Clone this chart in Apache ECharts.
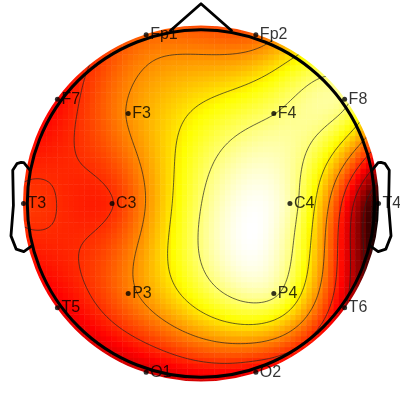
<!DOCTYPE html>
<html><head><meta charset="utf-8">
<script src="https://cdn.jsdelivr.net/npm/echarts@6/dist/echarts.min.js"></script>
<style>html,body{margin:0;padding:0;background:#fff}#c{width:400px;height:400px}</style>
</head><body><div id="c"></div>
<script>
// ---- data ----
const CHANNELS = ['Fp1','Fp2','F7','F3','F4','F8','T3','C3','C4','T4','T5','P3','P4','T6','O1','O2'];
const THETA    = [-18, 18, -54, -39, 39, 54, -90, -90, 90, 90, -126, -141, 141, 126, -162, 162];
const RADIUS   = [0.511,0.511,0.511,0.333,0.333,0.511,0.511,0.256,0.256,0.511,0.511,0.333,0.333,0.511,0.511,0.511];
const VALUES   = [0.3, 0.3, -2.4, 1.7, 7.1, 7.6, -0.9, -1.3, 8.2, -9.4, -3.0, 1.0, 7.6, -3.8, -3.9, -2.9];
const CONTOUR_COUNT = 6;
const HEAD_RADIUS = 0.5;
const NOSE_X = [0.09, 0, -0.09];
const NOSE_Y = [0.496, 0.575, 0.496];
const EAR_X = [0.492, 0.510, 0.518, 0.5299, 0.5419, 0.54, 0.547, 0.532, 0.510, 0.484];
const EAR_Y = [0.0955, 0.1175, 0.1183, 0.1146, 0.0955, -0.0055, -0.0932, -0.1313, -0.1384, -0.1199];
const HOT = ['#000000','#550000','#aa0000','#ff0000','#ff5500','#ffaa00','#ffff00','#ffff80','#ffffff'];

// ---- layout ----
const PX = 347.4, CX = 201, CY = 203.5;
const N = 67, GRID_R = 0.5145, BLANK_R = 0.5125;
const step = 2 * GRID_R / (N - 1);

// ---- electrode positions ----
const ex = THETA.map((t, i) => RADIUS[i] * Math.sin(t * Math.PI / 180));
const ey = THETA.map((t, i) => RADIUS[i] * Math.cos(t * Math.PI / 180));

// ---- biharmonic spline (griddata v4) ----
function green(d) { return d === 0 ? 0 : d * d * (Math.log(d) - 1); }
const n = VALUES.length;
const A = [];
for (let i = 0; i < n; i++) { A.push([]); for (let j = 0; j < n; j++) A[i].push(green(Math.hypot(ex[i]-ex[j], ey[i]-ey[j]))); A[i].push(VALUES[i]); }
for (let c = 0; c < n; c++) {
  let p = c; for (let r = c+1; r < n; r++) if (Math.abs(A[r][c]) > Math.abs(A[p][c])) p = r;
  [A[c], A[p]] = [A[p], A[c]];
  for (let r = 0; r < n; r++) { if (r === c) continue; const f = A[r][c] / A[c][c]; for (let k = c; k <= n; k++) A[r][k] -= f * A[c][k]; }
}
const W = A.map((row, i) => row[n] / row[i]);
function field(x, y) { let s = 0; for (let j = 0; j < n; j++) s += W[j] * green(Math.hypot(x-ex[j], y-ey[j])); return s; }

// ---- heat grid ----
const heat = []; let zmin = Infinity, zmax = -Infinity;
const FILL_R = BLANK_R + step * 0.75;
for (let i = 0; i < N; i++) for (let j = 0; j < N; j++) {
  const x = -GRID_R + i * step, y = -GRID_R + j * step, r = Math.hypot(x, y);
  if (r <= FILL_R) {
    const v = field(x, y); heat.push([i, j, v]);
    if (r <= GRID_R + 1e-9) { zmin = Math.min(zmin, v); zmax = Math.max(zmax, v); }
  }
}
const amax = Math.max(Math.abs(zmin), Math.abs(zmax));

// ---- contours (marching squares) ----
const M = 141, CR = 0.53, cs = 2 * CR / (M - 1);
const G = [], xs = [];
for (let i = 0; i < M; i++) { xs.push(-CR + i * cs); }
for (let i = 0; i < M; i++) { G.push([]); for (let j = 0; j < M; j++) G[i].push(field(xs[i], xs[j])); }
const levels = [];
for (let k = 1; k <= CONTOUR_COUNT; k++) levels.push(zmin + k * (zmax - zmin) / (CONTOUR_COUNT + 1));
const TABLE = {1:[[3,0]],2:[[0,1]],3:[[3,1]],4:[[1,2]],5:[[3,0],[1,2]],6:[[0,2]],7:[[3,2]],8:[[2,3]],9:[[0,2]],10:[[0,1],[2,3]],11:[[1,2]],12:[[1,3]],13:[[0,1]],14:[[0,3]]};
function contourSegs(L) {
  const segs = [];
  for (let i = 0; i < M-1; i++) for (let j = 0; j < M-1; j++) {
    const v = [G[i][j], G[i+1][j], G[i+1][j+1], G[i][j+1]];
    const idx = (v[0]>L?1:0)|(v[1]>L?2:0)|(v[2]>L?4:0)|(v[3]>L?8:0);
    if (idx === 0 || idx === 15) continue;
    const P = [[xs[i],xs[j]],[xs[i+1],xs[j]],[xs[i+1],xs[j+1]],[xs[i],xs[j+1]]];
    const ep = e => { const a = e, b = (e+1)%4; const t = (L - v[a]) / (v[b] - v[a]); return [P[a][0] + t*(P[b][0]-P[a][0]), P[a][1] + t*(P[b][1]-P[a][1])]; };
    TABLE[idx].forEach(pr => { const p1 = ep(pr[0]), p2 = ep(pr[1]); segs.push([p1[0],p1[1],p2[0],p2[1]]); });
  }
  return segs;
}
const contourData = levels.map((L, k) => ({ value: [0, 0, k], segs: contourSegs(L) }));

const heatHalf = GRID_R + step / 2;
const chart = echarts.init(document.getElementById('c'), null, { renderer: 'canvas' });
const idxs = Array.from({length: N}, (_, i) => i);
chart.setOption({
  animation: false,
  backgroundColor: '#fff',
  grid: [
    { left: CX - heatHalf * PX, top: CY - heatHalf * PX, width: 2 * heatHalf * PX, height: 2 * heatHalf * PX },
    { left: 0, top: 0, width: 400, height: 400 }
  ],
  xAxis: [
    { type: 'category', data: idxs, gridIndex: 0, show: false },
    { type: 'value', gridIndex: 1, min: -CX / PX, max: (400 - CX) / PX, show: false }
  ],
  yAxis: [
    { type: 'category', data: idxs, gridIndex: 0, show: false },
    { type: 'value', gridIndex: 1, min: -(400 - CY) / PX, max: CY / PX, show: false }
  ],
  visualMap: { type: 'continuous', show: false, seriesIndex: 0, dimension: 2, min: -amax, max: amax, inRange: { color: HOT } },
  series: [
    { type: 'heatmap', xAxisIndex: 0, yAxisIndex: 0, data: heat, progressive: 0, progressiveThreshold: 1e6, z: 1, itemStyle: { borderWidth: 0 } },
    { type: 'custom', xAxisIndex: 1, yAxisIndex: 1, z: 2, clip: false, silent: true,
      data: contourData,
      renderItem: (params, api) => {
        const segs = contourData[params.dataIndex].segs;
        let d = '';
        segs.forEach(s => { const a = api.coord([s[0], s[1]]), b = api.coord([s[2], s[3]]); d += 'M' + a[0].toFixed(2) + ' ' + a[1].toFixed(2) + 'L' + b[0].toFixed(2) + ' ' + b[1].toFixed(2); });
        return { type: 'path', shape: { pathData: d }, style: { fill: 'none', stroke: '#222', lineWidth: 0.7 } };
      } },
    { type: 'custom', xAxisIndex: 1, yAxisIndex: 1, z: 3, clip: false, silent: true, data: [[0, 0]],
      renderItem: (params, api) => {
        const c = api.coord([0, 0]); const r0 = api.size([BLANK_R, 0])[0]; const rh = api.size([HEAD_RADIUS, 0])[0];
        return { type: 'group', children: [
          { type: 'circle', shape: { cx: c[0], cy: c[1], r: r0 + 150 }, style: { fill: 'none', stroke: '#fff', lineWidth: 300 } },
          { type: 'circle', shape: { cx: c[0], cy: c[1], r: rh }, style: { fill: 'none', stroke: '#000', lineWidth: 3 } }
        ] };
      } },
    { type: 'line', xAxisIndex: 1, yAxisIndex: 1, z: 4, symbol: 'none', silent: true,
      data: NOSE_X.map((x, i) => [x, NOSE_Y[i]]), lineStyle: { color: '#000', width: 2.8, join: 'round' } },
    { type: 'line', xAxisIndex: 1, yAxisIndex: 1, z: 4, symbol: 'none', silent: true,
      data: EAR_X.map((x, i) => [x, EAR_Y[i]]), lineStyle: { color: '#000', width: 2.8, join: 'round' } },
    { type: 'line', xAxisIndex: 1, yAxisIndex: 1, z: 4, symbol: 'none', silent: true,
      data: EAR_X.map((x, i) => [-x, EAR_Y[i]]), lineStyle: { color: '#000', width: 2.8, join: 'round' } },
    { type: 'scatter', xAxisIndex: 1, yAxisIndex: 1, z: 5, symbolSize: 5, silent: true,
      itemStyle: { color: '#000' },
      data: CHANNELS.map((c, i) => ({ name: c, value: [ex[i], ey[i]] })),
      label: { show: true, position: 'right', distance: 1.5, formatter: '{b}', color: '#000', fontSize: 16, fontFamily: 'Liberation Sans, Arial, sans-serif' } }
  ]
});
</script></body></html>
